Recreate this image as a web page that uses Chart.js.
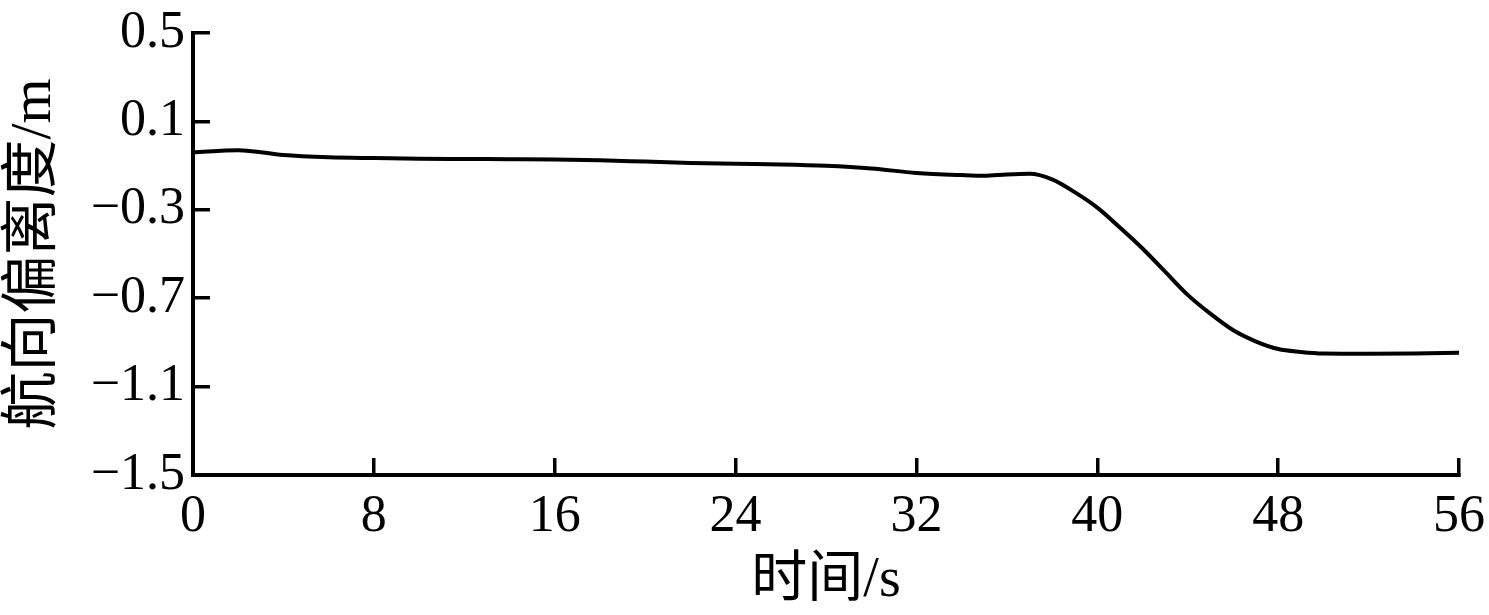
<!DOCTYPE html>
<html lang="zh">
<head>
  <meta charset="UTF-8">
  <title>航向偏离度</title>
  <script src="https://cdn.jsdelivr.net/npm/chart.js"></script>
  <style>
    html, body { margin: 0; padding: 0; background: #fff; }
    canvas { display: block; }
  </style>
</head>
<body>
  <canvas id="devChart" width="1489" height="615"></canvas>

  <script>
    // 时间 (s) 与 航向偏离度 (m)
    const times = [0, 2, 4, 6, 8, 10, 12, 14, 16, 18, 20, 22, 24, 26, 28, 30, 32, 34, 35, 36, 37,
                   38, 39, 40, 41, 42, 43, 44, 45, 46, 47, 48, 49, 50, 52, 54, 56];
    const deviation = [-0.040, -0.030, -0.052, -0.062, -0.066, -0.069, -0.070, -0.071, -0.072, -0.076,
                       -0.082, -0.088, -0.092, -0.095, -0.101, -0.113, -0.133, -0.143, -0.146, -0.140,
                       -0.137, -0.162, -0.220, -0.290, -0.380, -0.475, -0.580, -0.685, -0.770, -0.844,
                       -0.895, -0.930, -0.943, -0.950, -0.951, -0.950, -0.947];
    const xTicks = [0, 8, 16, 24, 32, 40, 48, 56];
    const yTicks = [-1.5, -1.1, -0.7, -0.3, 0.1, 0.5];

    const FONT = "'Liberation Serif', 'Noto Sans CJK SC', serif";

    const ctx = document.getElementById("devChart").getContext("2d");
    new Chart(ctx, {
      type: "line",
      data: {
        datasets: [{
          data: times.map((t, i) => ({ x: t, y: deviation[i] })),
          borderColor: "#000",
          borderWidth: 4,
          pointRadius: 0,
          fill: false,
          cubicInterpolationMode: "monotone"
        }]
      },
      options: {
        responsive: false,
        animation: false,
        layout: { padding: { top: 33, right: 30, left: 0, bottom: 0 } },
        plugins: { legend: { display: false }, tooltip: { enabled: false } },
        scales: {
          x: {
            type: "linear",
            min: 0, max: 56,
            afterBuildTicks: s => { s.ticks = xTicks.map(v => ({ value: v })); },
            afterFit: s => { s.height = 140; s.paddingLeft = 0; s.paddingRight = 0; },
            border: { color: "#000", width: 4 },
            grid: { drawOnChartArea: false, color: "#000", lineWidth: 3.5, tickLength: -17 },
            ticks: { color: "#000", font: { family: FONT, size: 52 }, padding: 28, maxRotation: 0 },
            title: {
              display: true, text: "时间/s", color: "#000",
              font: { family: FONT, size: 56 }, padding: { top: 0, bottom: 0 }
            }
          },
          y: {
            min: -1.5, max: 0.5,
            afterBuildTicks: s => { s.ticks = yTicks.map(v => ({ value: v })); },
            afterFit: s => { s.width = 193; s.paddingTop = 0; s.paddingBottom = 0; },
            border: { color: "#000", width: 4 },
            grid: { drawOnChartArea: false, color: "#000", lineWidth: 3.5, tickLength: -17 },
            ticks: {
              color: "#000", font: { family: FONT, size: 52 }, padding: 25,
              callback: v => v.toFixed(1).replace("-", "\u2212")
            },
            title: {
              display: true, text: "航向偏离度/m", color: "#000",
              font: { family: FONT, size: 58 }, padding: 0
            }
          }
        }
      }
    });
  </script>
</body>
</html>
